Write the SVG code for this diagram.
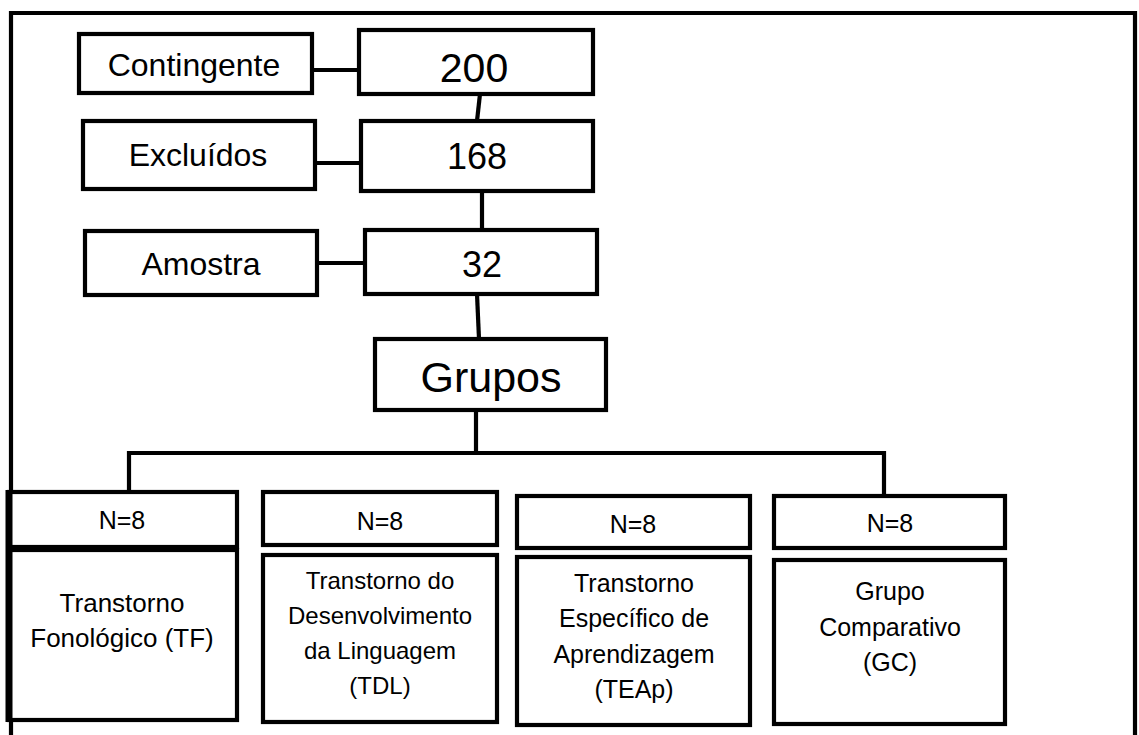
<svg xmlns="http://www.w3.org/2000/svg" width="1139" height="735" viewBox="0 0 1139 735">
<style>
.b{fill:#fff;stroke:#000;stroke-width:4.2}
.c{fill:none;stroke:#000;stroke-width:4.2}
text{font-family:"Liberation Sans",Arial,sans-serif;fill:#000;text-anchor:middle}
.s{font-size:32px}
.n{font-size:25px}
.d{font-size:25px}
</style>
<rect width="1139" height="735" fill="#fff"/>
<path class="c" d="M11,740 V13 H1135 V740"/>
<g id="connectors">
<path class="c" d="M312,70 H357"/>
<path class="c" d="M480,94 L477,121"/>
<path class="c" d="M315,163 H361"/>
<path class="c" d="M482,191 V230"/>
<path class="c" d="M317,263 H365"/>
<path class="c" d="M477,294 L479,339"/>
<path class="c" d="M476,410 V453"/>
<path class="c" d="M129,492 V453 H884 V496"/>
</g>
<g id="contingente"><rect class="b" x="79" y="34" width="233" height="59"/><text class="s" x="194" y="76">Contingente</text></g>
<g id="n200"><rect class="b" x="359" y="30" width="234" height="64"/><text x="474" y="82" font-size="41">200</text></g>
<g id="excluidos"><rect class="b" x="83" y="121" width="232" height="68"/><text class="s" x="198" y="166">Excluídos</text></g>
<g id="n168"><rect class="b" x="361" y="121" width="232" height="70"/><text x="477" y="169" font-size="36">168</text></g>
<g id="amostra"><rect class="b" x="85" y="231" width="232" height="64"/><text class="s" x="201" y="275">Amostra</text></g>
<g id="n32"><rect class="b" x="365" y="230" width="232" height="64"/><text x="482" y="277" font-size="36">32</text></g>
<g id="grupos"><rect class="b" x="375" y="339" width="231" height="71"/><text x="491" y="392" font-size="43">Grupos</text></g>
<g id="n1"><rect class="b" x="9" y="492" width="228" height="55"/><text class="n" x="122" y="529">N=8</text></g>
<g id="n2"><rect class="b" x="263" y="492" width="234" height="53"/><text class="n" x="380" y="530">N=8</text></g>
<g id="n3"><rect class="b" x="517" y="496" width="233" height="52"/><text class="n" x="633" y="533">N=8</text></g>
<g id="n4"><rect class="b" x="774" y="496" width="231" height="52"/><text class="n" x="890" y="532">N=8</text></g>
<g id="tf"><rect class="b" x="9" y="550" width="228" height="170"/>
<path class="c" d="M9,548 H237" stroke-width="6"/>
<path class="c" d="M9,490 V722" style="stroke-width:7"/>
<text x="122" y="612" font-size="26">Transtorno</text><text x="122" y="647" font-size="26">Fonológico (TF)</text></g>
<g id="tdl"><rect class="b" x="263" y="555" width="234" height="167"/>
<text x="380" y="589" font-size="24">Transtorno do</text><text x="380" y="624" font-size="24">Desenvolvimento</text><text x="380" y="659" font-size="24">da Linguagem</text><text x="380" y="694" font-size="24">(TDL)</text></g>
<g id="teap"><rect class="b" x="517" y="557" width="233" height="168"/>
<text class="d" x="634" y="592">Transtorno</text><text class="d" x="634" y="627">Específico de</text><text class="d" x="634" y="663">Aprendizagem</text><text class="d" x="634" y="698">(TEAp)</text></g>
<g id="gc"><rect class="b" x="774" y="560" width="231" height="164"/>
<text class="d" x="890" y="600">Grupo</text><text class="d" x="890" y="636">Comparativo</text><text class="d" x="890" y="671">(GC)</text></g>
</svg>
